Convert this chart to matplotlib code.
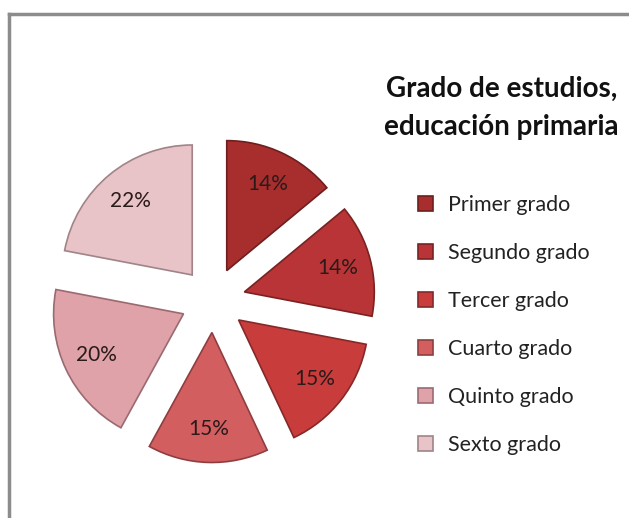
import matplotlib.pyplot as plt
from matplotlib.lines import Line2D

plt.rcParams['font.family'] = ['Lato', 'DejaVu Sans']

grados = ['Primer grado', 'Segundo grado', 'Tercer grado',
          'Cuarto grado', 'Quinto grado', 'Sexto grado']
porcentajes = [14, 14, 15, 15, 20, 22]
colores = ['#a82e2e', '#b83436', '#c93c3c', '#d35e60', '#dea2a8', '#e8c3c8']
bordes = ['#6e1e1e', '#7a2222', '#862828', '#8e3e40', '#9a6a70', '#a08488']

fig = plt.figure(figsize=(6.29, 5.18), dpi=100)

# marco gris
fig.add_artist(Line2D([0.015, 0.015], [0, 0.973], color='#8c8c8c', lw=2.5))
fig.add_artist(Line2D([0.015, 1.0], [0.973, 0.973], color='#8c8c8c', lw=2.5))

ax = fig.add_axes([0.008, 0.0193, 0.661, 0.803])
wedges, texts, autotexts = ax.pie(
    porcentajes, colors=colores, startangle=90, counterclock=False,
    explode=[0.25] * 6, autopct='%d%%', pctdistance=0.74,
    textprops={'fontsize': 15, 'color': '#2b1a1a'})
for w, b in zip(wedges, bordes):
    w.set_edgecolor(b)
    w.set_linewidth(1.2)
ax.set_xlim(-1.6, 1.6)
ax.set_ylim(-1.6, 1.6)
ax.set_aspect('auto')
ax.axis('off')

fig.text(0.797, 0.792, 'Grado de estudios,\neducación primaria', ha='center',
         va='center', fontsize=20, fontweight='bold', linespacing=1.55,
         color='#111111')

fig.legend(wedges, grados, loc='upper left', bbox_to_anchor=(0.633, 0.66),
           frameon=False, fontsize=15.5, labelspacing=1.3,
           handlelength=0.7, handleheight=0.7, handletextpad=0.7,
           labelcolor='#222222')

plt.savefig('out.png', dpi=100)
